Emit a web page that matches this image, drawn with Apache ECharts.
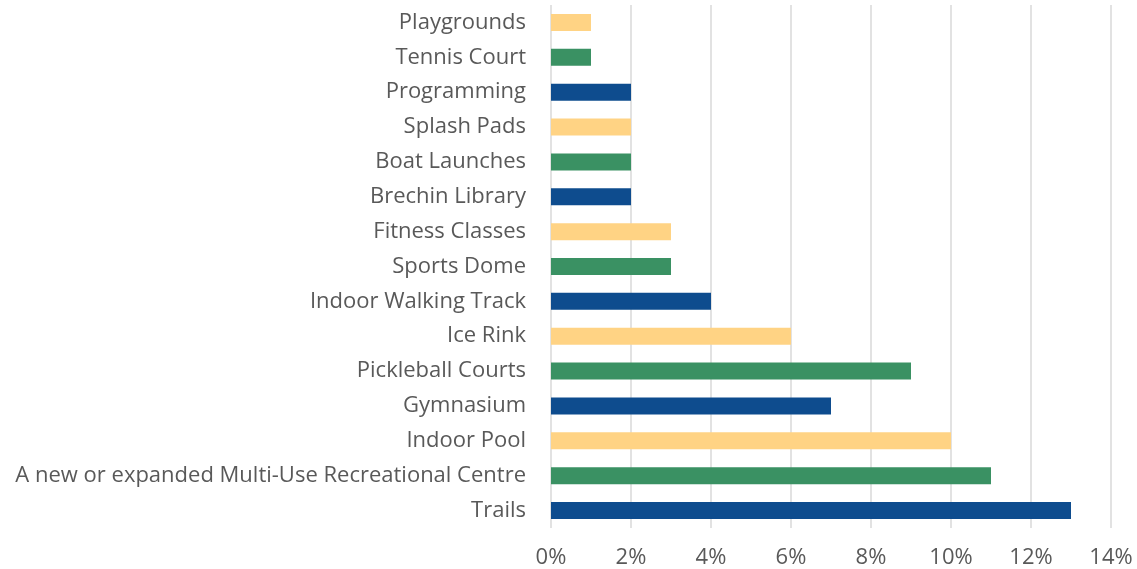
<!DOCTYPE html>
<html>
<head>
<meta charset="utf-8">
<script src="https://cdn.jsdelivr.net/npm/echarts@6/dist/echarts.min.js"></script>
<style>
html,body{margin:0;padding:0;background:#fff;}
#chart{width:1137px;height:569px;}
</style>
</head>
<body>
<div id="chart"></div>
<script>
const categories = [
  "Trails",
  "A new or expanded Multi-Use Recreational Centre",
  "Indoor Pool",
  "Gymnasium",
  "Pickleball Courts",
  "Ice Rink",
  "Indoor Walking Track",
  "Sports Dome",
  "Fitness Classes",
  "Brechin Library",
  "Boat Launches",
  "Splash Pads",
  "Programming",
  "Tennis Court",
  "Playgrounds"
];
const values = [13, 11, 10, 7, 9, 6, 4, 3, 3, 2, 2, 2, 2, 1, 1];
const xTicks = [0, 2, 4, 6, 8, 10, 12, 14];

const palette = ["#0E4C8E", "#3A9163", "#FFD384"];
const chart = echarts.init(document.getElementById('chart'));
chart.setOption({
  animation: false,
  grid: { left: 551, right: 26, top: 5, bottom: 41, containLabel: false },
  xAxis: {
    type: 'value',
    min: xTicks[0],
    max: xTicks[xTicks.length - 1],
    interval: 2,
    axisLine: { show: false },
    axisTick: { show: false },
    splitLine: { show: true, lineStyle: { color: '#D9D9D9', width: 1.5 } },
    axisLabel: {
      formatter: v => v + '%',
      color: '#595959',
      fontSize: 22,
      fontFamily: 'Open Sans',
      margin: 19
    }
  },
  yAxis: {
    type: 'category',
    data: categories,
    axisLine: { show: false },
    axisTick: { show: false },
    axisLabel: {
      color: '#595959',
      fontSize: 22,
      fontFamily: 'Open Sans',
      margin: 25
    }
  },
  series: [{
    type: 'bar',
    data: values,
    barWidth: 17,
    itemStyle: {
      color: p => palette[p.dataIndex % 3]
    }
  }]
});
</script>
</body>
</html>
